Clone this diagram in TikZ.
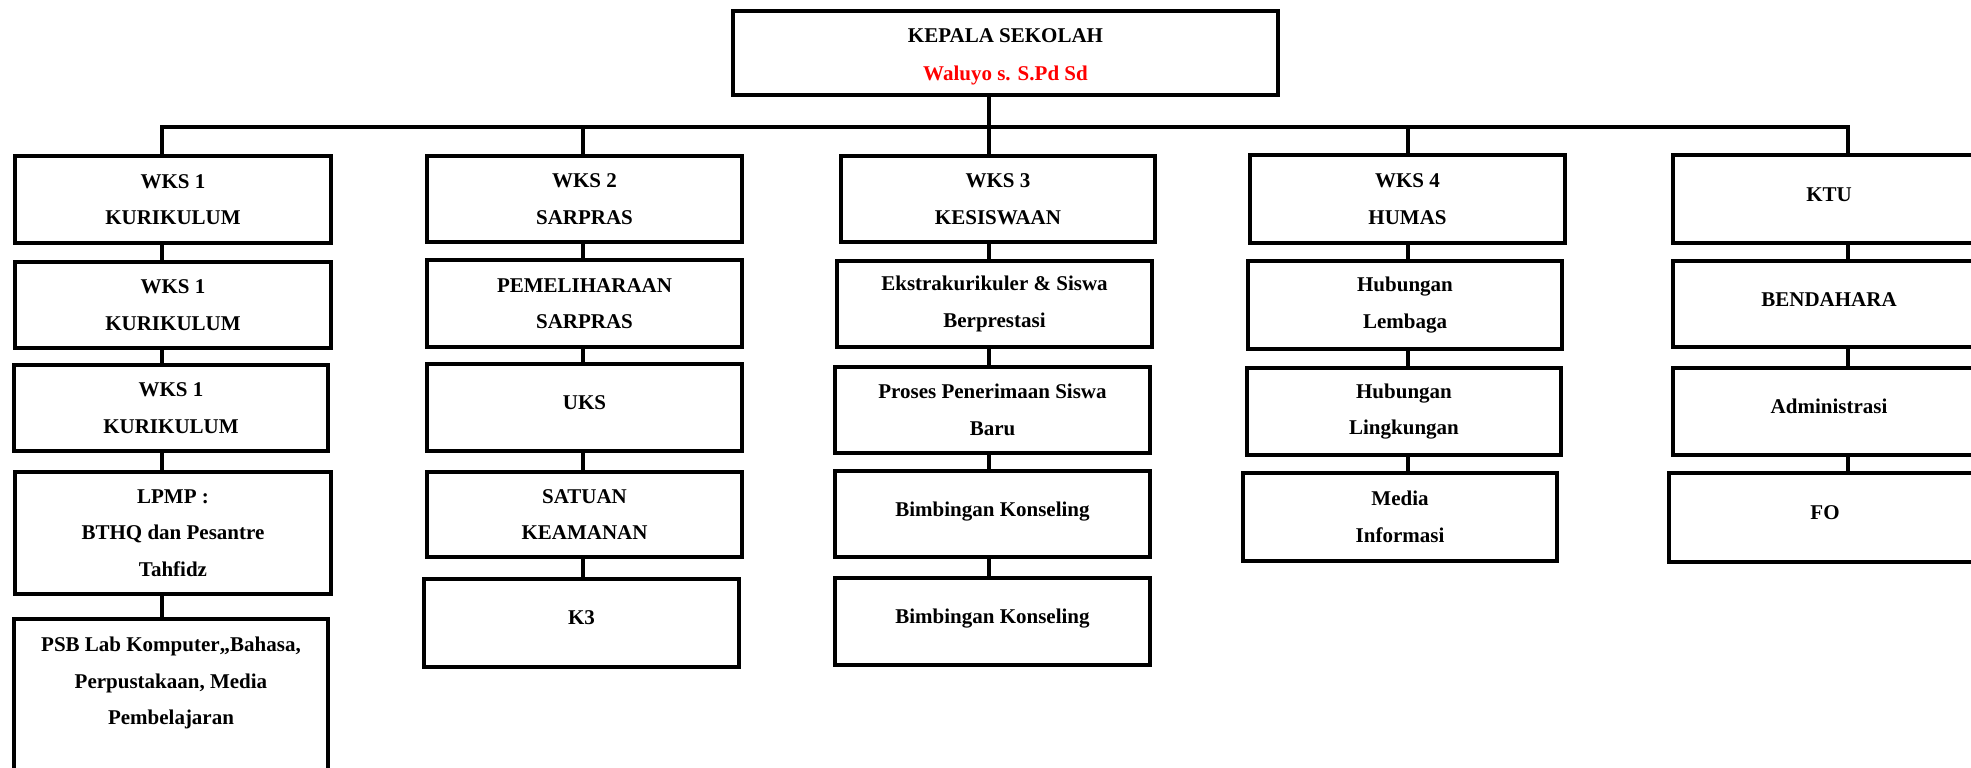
\documentclass[tikz,border=0pt]{standalone}
\usepackage{fontspec}
\setmainfont{Liberation Serif}
\begin{document}
\begin{tikzpicture}[x=0.5pt,y=-0.5pt,
  box/.style={draw, line width=2pt, inner sep=0pt, align=center,
    font=\bfseries\fontsize{10.5pt}{18.3pt}\selectfont},
  one/.style={text height=7pt, text depth=5pt},
  conn/.style={line width=1.8pt}]
\useasboundingbox (0,0) rectangle (1971,767);
\clip (0,0) rectangle (1971,767);
\fill[white] (0,0) rectangle (1971,767);
% top
\node[box, minimum width=272.5pt, minimum height=42pt, text height=29.5pt,
  font=\bfseries\fontsize{10.5pt}{19pt}\selectfont] (ks) at (1005.5,53)
  {KEPALA SEKOLAH\\\textcolor{red}{Waluyo s. S.Pd Sd}};
% column 1
\node[box, minimum width=158pt, minimum height=43.5pt] (w11) at (173,199.5) {WKS 1\\KURIKULUM};
\node[box, minimum width=158pt, minimum height=43pt] (w12) at (173,305) {WKS 1\\KURIKULUM};
\node[box, minimum width=157pt, minimum height=43pt] (w13) at (171,408) {WKS 1\\KURIKULUM};
\node[box, minimum width=158pt, minimum height=61pt] (w14) at (173,533) {LPMP :\\BTHQ dan Pesantre\\Tahfidz};
\node[box, minimum width=157pt, anchor=north, inner ysep=9pt, text depth=70pt] (w15) at (171,617)
  {PSB Lab Komputer,,Bahasa,\\Perpustakaan, Media\\Pembelajaran};
% column 2
\node[box, minimum width=157.5pt, minimum height=43pt] (w21) at (584.5,199) {WKS 2\\SARPRAS};
\node[box, minimum width=157.5pt, minimum height=43.5pt] (w22) at (584.5,303.5) {PEMELIHARAAN\\SARPRAS};
\node[box, one, minimum width=157.5pt, minimum height=43.5pt] (w23) at (584.5,407.5) {UKS};
\node[box, minimum width=157.5pt, minimum height=42.5pt] (w24) at (584.5,514.5) {SATUAN\\KEAMANAN};
\node[box, one, text depth=6pt, minimum width=157.5pt, minimum height=44pt] (w25) at (581.5,623) {K3};
% column 3
\node[box, minimum width=157pt, minimum height=43pt] (w31) at (998,199) {WKS 3\\KESISWAAN};
\node[box, minimum width=157.5pt, minimum height=43pt] (w32) at (994.5,304) {Ekstrakurikuler \& Siswa\\Berprestasi};
\node[box, minimum width=157.5pt, minimum height=43pt] (w33) at (992.5,410) {Proses Penerimaan Siswa\\Baru};
\node[box, one, minimum width=157.5pt, minimum height=43pt] (w34) at (992.5,514) {Bimbingan Konseling};
\node[box, one, minimum width=157.5pt, minimum height=43.5pt] (w35) at (992.5,621.5) {Bimbingan Konseling};
% column 4
\node[box, minimum width=157.5pt, minimum height=44pt] (w41) at (1407.5,199) {WKS 4\\HUMAS};
\node[box, minimum width=157pt, minimum height=44pt] (w42) at (1405,305) {Hubungan\\Lembaga};
\node[box, minimum width=157pt, minimum height=43.5pt] (w43) at (1404,411.5) {Hubungan\\Lingkungan};
\node[box, minimum width=157pt, minimum height=44pt] (w44) at (1400,517) {Media\\Informasi};
% column 5
\node[box, one, minimum width=156pt, minimum height=44pt] (w51) at (1829,199) {KTU};
\node[box, one, minimum width=156pt, minimum height=43pt] (w52) at (1829,304) {BENDAHARA};
\node[box, one, minimum width=156pt, minimum height=43.5pt] (w53) at (1829,411.5) {Administrasi};
\node[box, one, minimum width=156pt, minimum height=44.5pt] (w54) at (1825,517.5) {FO};
% connectors
\coordinate (c1) at (162,127);
\coordinate (c2) at (583,127);
\coordinate (c3) at (989,127);
\coordinate (c4) at (1408,127);
\coordinate (c5) at (1848,127);
\draw[conn] (ks.south -| c3) -- (c3);
\draw[conn] (c1 |- w11.north) -- (c1) -- (c5) -- (c5 |- w51.north);
\draw[conn] (c2) -- (c2 |- w21.north);
\draw[conn] (c3) -- (c3 |- w31.north);
\draw[conn] (c4) -- (c4 |- w41.north);
% column 1 links
\draw[conn] (c1 |- w11.south) -- (c1 |- w12.north);
\draw[conn] (c1 |- w12.south) -- (c1 |- w13.north);
\draw[conn] (c1 |- w13.south) -- (c1 |- w14.north);
\draw[conn] (c1 |- w14.south) -- (c1 |- w15.north);
% column 2 links
\draw[conn] (c2 |- w21.south) -- (c2 |- w22.north);
\draw[conn] (c2 |- w22.south) -- (c2 |- w23.north);
\draw[conn] (c2 |- w23.south) -- (c2 |- w24.north);
\draw[conn] (c2 |- w24.south) -- (c2 |- w25.north);
% column 3 links
\draw[conn] (c3 |- w31.south) -- (c3 |- w32.north);
\draw[conn] (c3 |- w32.south) -- (c3 |- w33.north);
\draw[conn] (c3 |- w33.south) -- (c3 |- w34.north);
\draw[conn] (c3 |- w34.south) -- (c3 |- w35.north);
% column 4 links
\draw[conn] (c4 |- w41.south) -- (c4 |- w42.north);
\draw[conn] (c4 |- w42.south) -- (c4 |- w43.north);
\draw[conn] (c4 |- w43.south) -- (c4 |- w44.north);
% column 5 links
\draw[conn] (c5 |- w51.south) -- (c5 |- w52.north);
\draw[conn] (c5 |- w52.south) -- (c5 |- w53.north);
\draw[conn] (c5 |- w53.south) -- (c5 |- w54.north);
\end{tikzpicture}
\end{document}
